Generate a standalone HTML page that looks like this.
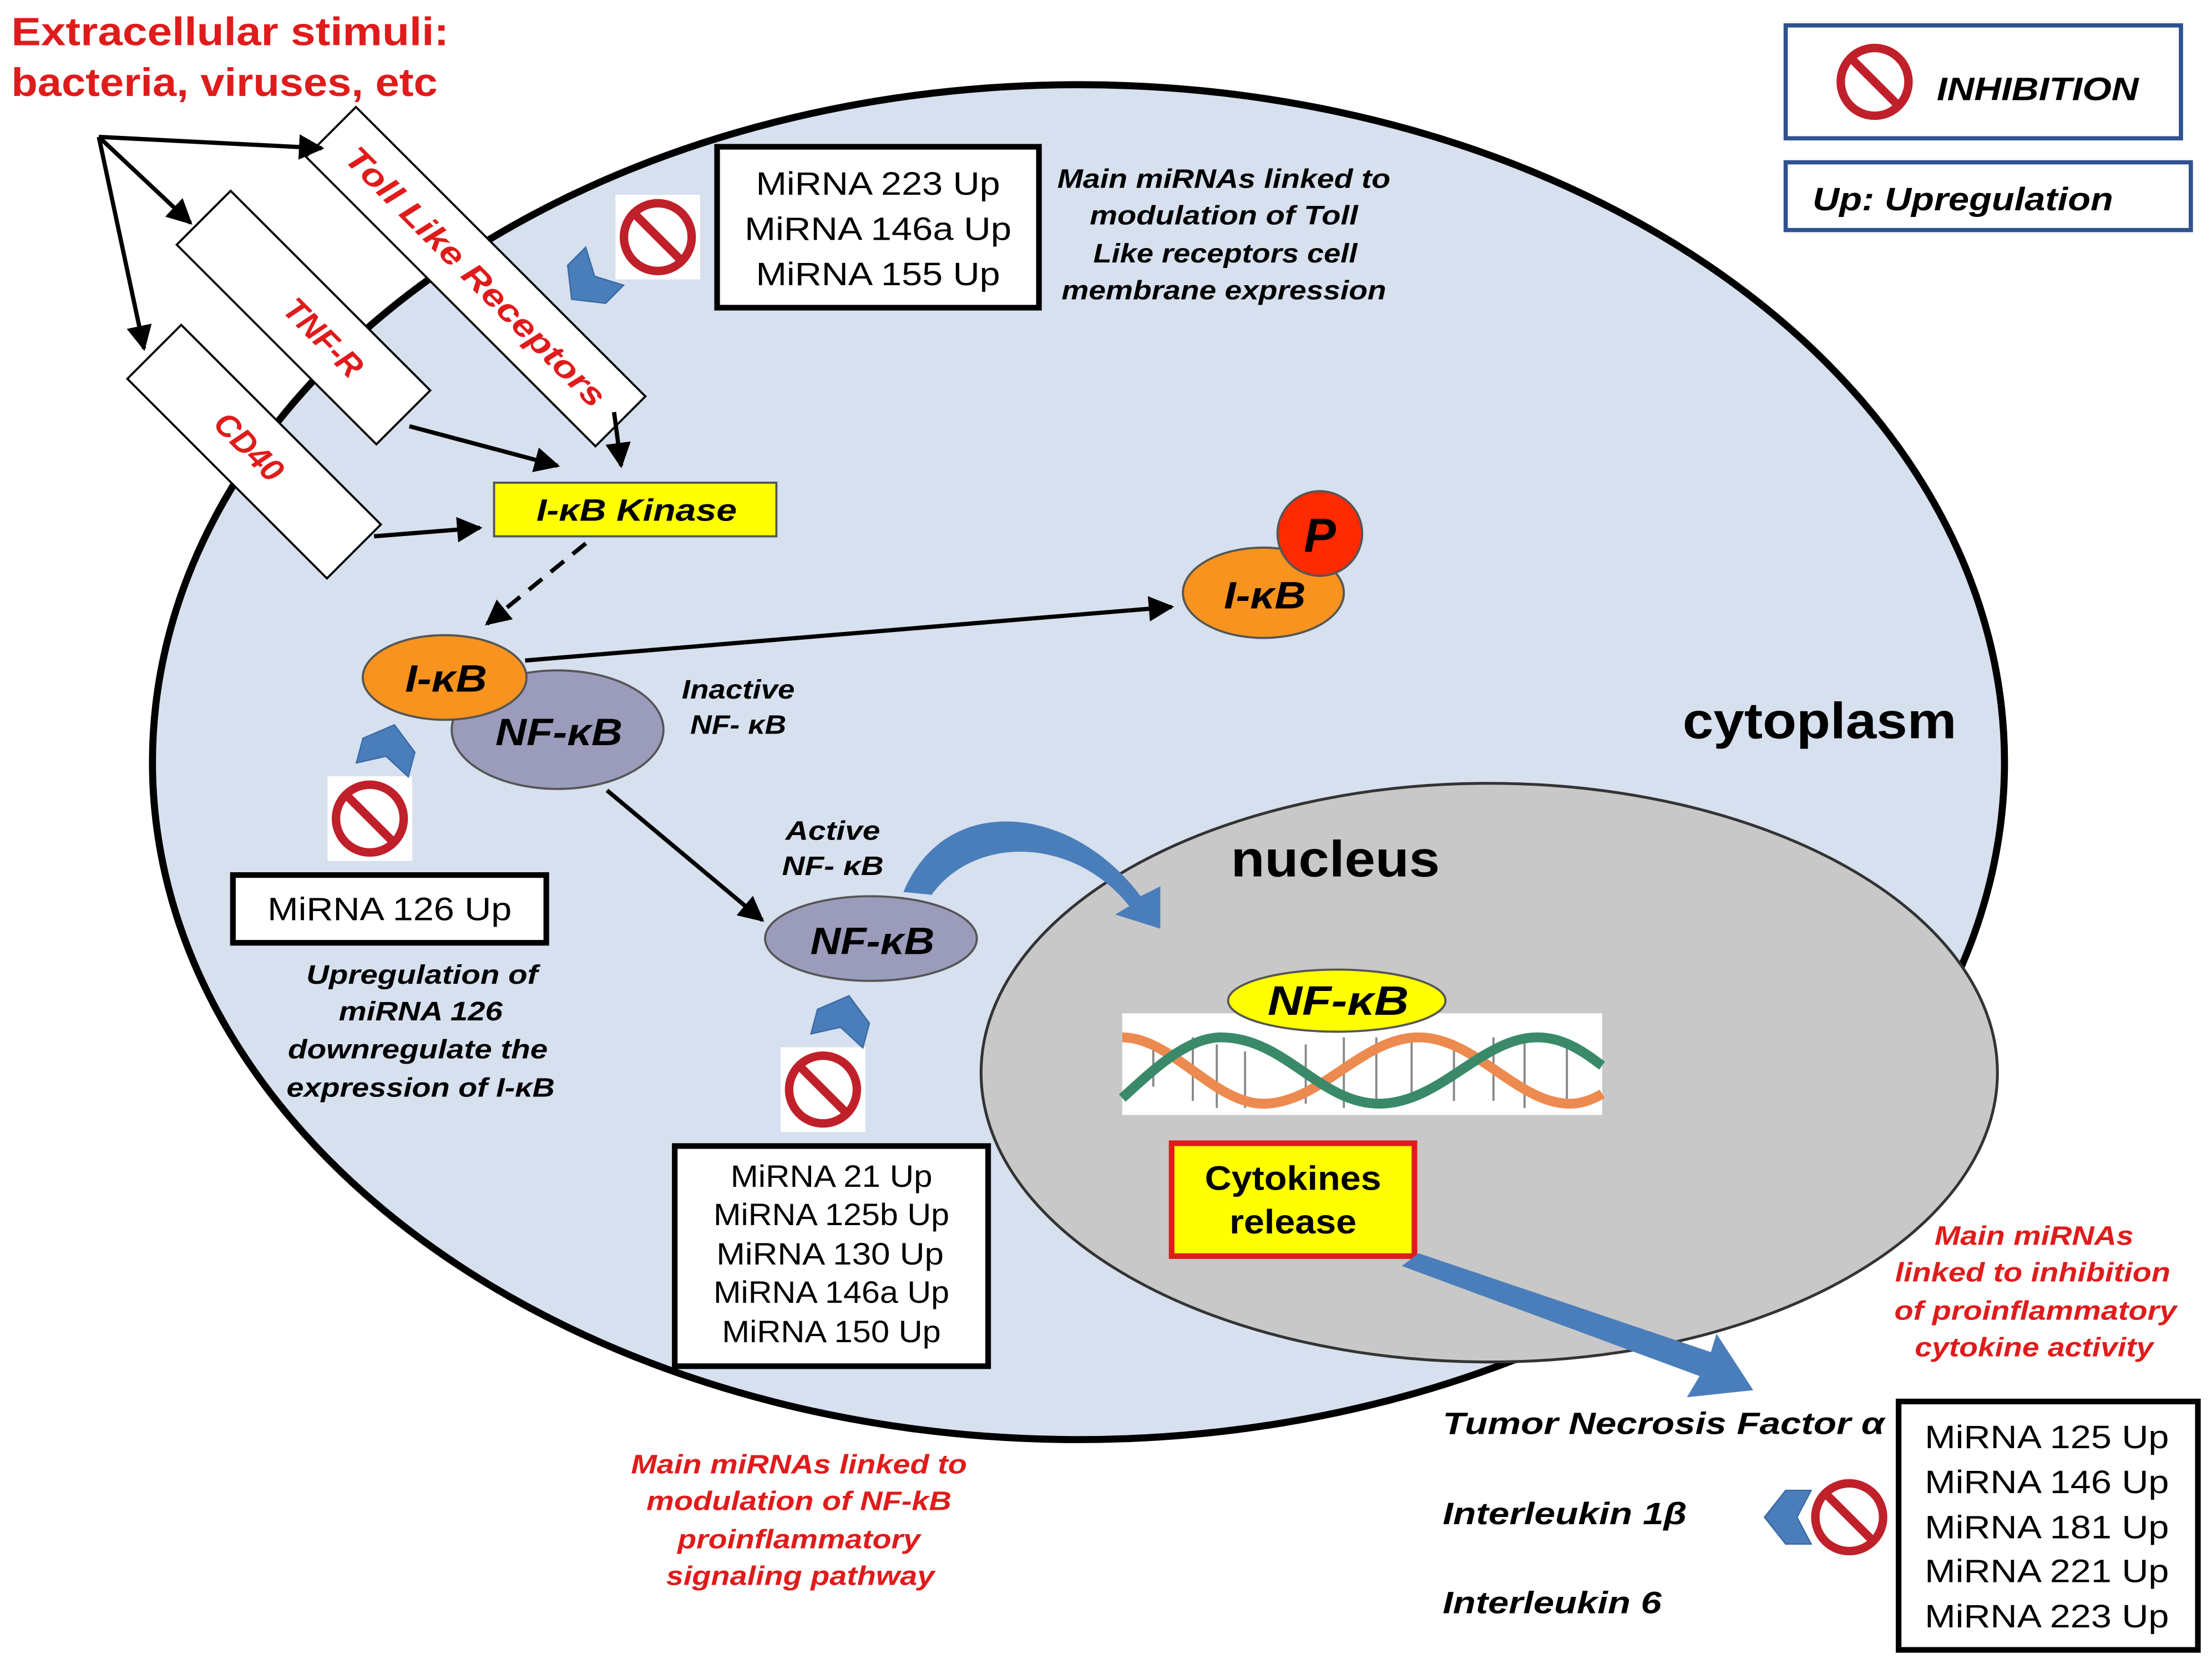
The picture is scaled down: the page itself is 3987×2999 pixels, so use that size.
<!DOCTYPE html>
<html><head><meta charset="utf-8"><style>
html,body{margin:0;padding:0;background:#fff;}
svg{display:block}
text{font-family:"Liberation Sans",Arial,sans-serif;}
.b{font-weight:bold}
.bi{font-weight:bold;font-style:italic}
</style></head><body>
<svg width="3987" height="2999" viewBox="0 0 1567 1179" preserveAspectRatio="none" xmlns="http://www.w3.org/2000/svg">
<defs>
<marker id="ah" viewBox="0 0 10 10" refX="9" refY="5" markerWidth="6" markerHeight="6" orient="auto"><path d="M0,0 L10,5 L0,10 z" fill="#000"/></marker>
<g id="inh"><rect x="-30" y="-30" width="60" height="60" fill="#fff"/><circle r="24" fill="none" stroke="#c0202a" stroke-width="6"/><line x1="-17" y1="-17" x2="17" y2="17" stroke="#c0202a" stroke-width="6"/></g>
<g id="chev"><path d="M0,-17 L19,-2 L19,16 L0,6 L-19,16 L-19,-2 z" fill="#4a7ebb" stroke="#3a6aa5" stroke-width="1"/></g>
</defs>
<rect width="1567" height="1179" fill="#fff"/>
<ellipse cx="764" cy="540" rx="656" ry="480" fill="#d6e0ee" stroke="#000" stroke-width="5"/>
<ellipse cx="1055" cy="760" rx="360" ry="205" fill="#c8c8c8" stroke="#333" stroke-width="2"/>

<text x="8" y="32" class="b" font-size="28" fill="#e01b1b" textLength="310" lengthAdjust="spacingAndGlyphs">Extracellular stimuli:</text>
<text x="8" y="68" class="b" font-size="28" fill="#e01b1b" textLength="302" lengthAdjust="spacingAndGlyphs">bacteria, viruses, etc</text>

<g transform="translate(180,320) rotate(45)"><rect x="-100" y="-27" width="200" height="54" fill="#fff" stroke="#000" stroke-width="1.5"/><text x="-5" y="8" text-anchor="middle" class="bi" font-size="23" fill="#e01b1b">CD40</text></g>
<g transform="translate(215,225) rotate(45)"><rect x="-100" y="-27" width="200" height="54" fill="#fff" stroke="#000" stroke-width="1.5"/><text x="20" y="8" text-anchor="middle" class="bi" font-size="23" fill="#e01b1b">TNF-R</text></g>
<g transform="translate(337,196) rotate(45)"><rect x="-145" y="-25" width="290" height="50" fill="#fff" stroke="#000" stroke-width="1.5"/><text x="0" y="8" text-anchor="middle" class="bi" font-size="23" fill="#e01b1b" textLength="250" lengthAdjust="spacingAndGlyphs">Toll Like Receptors</text></g>

<g stroke="#000" stroke-width="3" fill="none" marker-end="url(#ah)">
<line x1="70" y1="97" x2="228" y2="105"/>
<line x1="70" y1="97" x2="135" y2="158"/>
<line x1="70" y1="97" x2="102" y2="247"/>
<line x1="290" y1="302" x2="395" y2="330"/>
<line x1="265" y1="380" x2="340" y2="374"/>
<line x1="435" y1="292" x2="440" y2="330"/>
<line x1="415" y1="385" x2="345" y2="442" stroke-dasharray="12,8"/>
<line x1="372" y1="468" x2="830" y2="430"/>
<line x1="430" y1="560" x2="540" y2="652"/>
</g>

<rect x="350" y="342" width="200" height="38" fill="#ffff00" stroke="#555" stroke-width="1.5"/>
<text x="451" y="369" text-anchor="middle" class="bi" font-size="22" textLength="142" lengthAdjust="spacingAndGlyphs">I-κB Kinase</text>

<ellipse cx="395" cy="517" rx="75" ry="42" fill="#9b9bbb" stroke="#555" stroke-width="1.5"/>
<text x="396" y="528" text-anchor="middle" class="bi" font-size="27" textLength="90" lengthAdjust="spacingAndGlyphs">NF-κB</text>
<ellipse cx="315" cy="480" rx="58" ry="30" fill="#f7931e" stroke="#555" stroke-width="1.5"/>
<text x="316" y="490" text-anchor="middle" class="bi" font-size="27" textLength="58" lengthAdjust="spacingAndGlyphs">I-κB</text>
<text x="523" y="495" text-anchor="middle" class="bi" font-size="19" textLength="80" lengthAdjust="spacingAndGlyphs">Inactive</text>
<text x="523" y="520" text-anchor="middle" class="bi" font-size="19" textLength="68" lengthAdjust="spacingAndGlyphs">NF- κB</text>

<ellipse cx="895" cy="420" rx="57" ry="32" fill="#f7931e" stroke="#555" stroke-width="1.5"/>
<text x="896" y="431" text-anchor="middle" class="bi" font-size="27" textLength="58" lengthAdjust="spacingAndGlyphs">I-κB</text>
<circle cx="935" cy="378" r="30" fill="#ff2a00" stroke="#555" stroke-width="1.5"/>
<text x="935" y="391" text-anchor="middle" class="bi" font-size="34">P</text>

<ellipse cx="617" cy="665" rx="75" ry="30" fill="#9b9bbb" stroke="#555" stroke-width="1.5"/>
<text x="618" y="676" text-anchor="middle" class="bi" font-size="27" textLength="88" lengthAdjust="spacingAndGlyphs">NF-κB</text>
<text x="590" y="595" text-anchor="middle" class="bi" font-size="19" textLength="67" lengthAdjust="spacingAndGlyphs">Active</text>
<text x="590" y="620" text-anchor="middle" class="bi" font-size="19" textLength="72" lengthAdjust="spacingAndGlyphs">NF- κB</text>
<path d="M640,632 C670,560 760,570 808,635 L822,628 L822,658 L790,648 L800,642 C760,592 690,592 660,634 z" fill="#4a7ebb"/>

<text x="1289" y="523" text-anchor="middle" class="b" font-size="36" textLength="194" lengthAdjust="spacingAndGlyphs">cytoplasm</text>
<text x="946" y="621" text-anchor="middle" class="b" font-size="36" textLength="148" lengthAdjust="spacingAndGlyphs">nucleus</text>

<!-- DNA -->
<rect x="795" y="718" width="340" height="72" fill="#fff"/>
<g stroke="#888" stroke-width="1.5">
<line x1="817" y1="738" x2="817" y2="770"/><line x1="845" y1="735" x2="845" y2="780"/><line x1="862" y1="740" x2="862" y2="785"/><line x1="882" y1="745" x2="882" y2="785"/>
<line x1="925" y1="740" x2="925" y2="782"/><line x1="952" y1="735" x2="952" y2="785"/><line x1="975" y1="735" x2="975" y2="780"/><line x1="1000" y1="738" x2="1000" y2="780"/>
<line x1="1030" y1="740" x2="1030" y2="780"/><line x1="1058" y1="735" x2="1058" y2="780"/><line x1="1080" y1="738" x2="1080" y2="785"/><line x1="1110" y1="740" x2="1110" y2="782"/>
</g>
<path d="M795,735 C830,735 860,782 895,782 C935,782 965,735 1005,735 C1045,735 1075,782 1112,782 C1122,782 1130,778 1135,775" stroke="#ec8a50" stroke-width="7" fill="none"/>
<path d="M795,778 C815,760 840,735 865,735 C910,735 935,782 977,782 C1020,782 1050,735 1089,735 C1110,735 1125,748 1135,755" stroke="#3a8a6a" stroke-width="7" fill="none"/>
<ellipse cx="947" cy="709" rx="77" ry="22" fill="#ffff00" stroke="#555" stroke-width="1.5"/>
<text x="948" y="719" text-anchor="middle" class="bi" font-size="29" textLength="100" lengthAdjust="spacingAndGlyphs">NF-κB</text>

<rect x="830" y="810" width="172" height="80" fill="#ffff00" stroke="#e01b1b" stroke-width="4"/>
<text x="916" y="843" text-anchor="middle" class="b" font-size="24" textLength="125" lengthAdjust="spacingAndGlyphs">Cytokines</text>
<text x="916" y="874" text-anchor="middle" class="b" font-size="24" textLength="90" lengthAdjust="spacingAndGlyphs">release</text>
<path d="M993,897 L1005,888 L1212,958 L1216,945 L1242,985 L1195,990 L1204,975 z" fill="#4a7ebb"/>

<!-- miRNA boxes -->
<rect x="508" y="104" width="228" height="114" fill="#fff" stroke="#000" stroke-width="4"/>
<g font-size="23" text-anchor="middle">
<text x="622" y="138" textLength="173" lengthAdjust="spacingAndGlyphs">MiRNA 223 Up</text>
<text x="622" y="170" textLength="189" lengthAdjust="spacingAndGlyphs">MiRNA 146a Up</text>
<text x="622" y="202" textLength="173" lengthAdjust="spacingAndGlyphs">MiRNA 155 Up</text>
</g>
<g class="bi" font-size="19" text-anchor="middle">
<text x="867" y="133" textLength="236" lengthAdjust="spacingAndGlyphs">Main miRNAs linked to</text>
<text x="867" y="159" textLength="190" lengthAdjust="spacingAndGlyphs">modulation of Toll</text>
<text x="868" y="186" textLength="187" lengthAdjust="spacingAndGlyphs">Like receptors cell</text>
<text x="867" y="212" textLength="230" lengthAdjust="spacingAndGlyphs">membrane expression</text>
</g>
<use href="#inh" x="466" y="168"/>
<g transform="translate(417,200) rotate(-135)"><use href="#chev"/></g>

<rect x="165" y="620" width="222" height="48" fill="#fff" stroke="#000" stroke-width="4"/>
<text x="276" y="652" text-anchor="middle" font-size="23" textLength="173" lengthAdjust="spacingAndGlyphs">MiRNA 126 Up</text>
<use href="#inh" x="262" y="580"/>
<g transform="translate(275,530) rotate(15)"><use href="#chev"/></g>
<g class="bi" font-size="19" text-anchor="middle">
<text x="299" y="697" textLength="164" lengthAdjust="spacingAndGlyphs">Upregulation of</text>
<text x="298" y="723" textLength="116" lengthAdjust="spacingAndGlyphs">miRNA 126</text>
<text x="296" y="750" textLength="184" lengthAdjust="spacingAndGlyphs">downregulate the</text>
<text x="298" y="777" textLength="190" lengthAdjust="spacingAndGlyphs">expression of I-κB</text>
</g>

<rect x="478" y="812" width="222" height="156" fill="#fff" stroke="#000" stroke-width="4"/>
<g font-size="22" text-anchor="middle">
<text x="589" y="841" textLength="143" lengthAdjust="spacingAndGlyphs">MiRNA 21 Up</text>
<text x="589" y="868" textLength="167" lengthAdjust="spacingAndGlyphs">MiRNA 125b Up</text>
<text x="588" y="896" textLength="161" lengthAdjust="spacingAndGlyphs">MiRNA 130  Up</text>
<text x="589" y="923" textLength="167" lengthAdjust="spacingAndGlyphs">MiRNA 146a Up</text>
<text x="589" y="951" textLength="155" lengthAdjust="spacingAndGlyphs">MiRNA 150 Up</text>
</g>
<use href="#inh" x="583" y="772"/>
<g transform="translate(597,722) rotate(15)"><use href="#chev"/></g>
<g class="bi" font-size="19" text-anchor="middle" fill="#e01b1b">
<text x="566" y="1044" textLength="238" lengthAdjust="spacingAndGlyphs">Main miRNAs linked to</text>
<text x="566" y="1070" textLength="216" lengthAdjust="spacingAndGlyphs">modulation of NF-kB</text>
<text x="566" y="1097" textLength="172" lengthAdjust="spacingAndGlyphs">proinflammatory</text>
<text x="567" y="1123" textLength="190" lengthAdjust="spacingAndGlyphs">signaling pathway</text>
</g>

<g class="bi" font-size="19" text-anchor="middle" fill="#e01b1b">
<text x="1441" y="882" textLength="141" lengthAdjust="spacingAndGlyphs">Main miRNAs</text>
<text x="1440" y="908" textLength="195" lengthAdjust="spacingAndGlyphs">linked to inhibition</text>
<text x="1442" y="935" textLength="200" lengthAdjust="spacingAndGlyphs">of proinflammatory</text>
<text x="1441" y="961" textLength="169" lengthAdjust="spacingAndGlyphs">cytokine activity</text>
</g>
<g class="bi" font-size="22">
<text x="1022" y="1016" textLength="313" lengthAdjust="spacingAndGlyphs">Tumor Necrosis Factor α</text>
<text x="1022" y="1080" textLength="173" lengthAdjust="spacingAndGlyphs">Interleukin 1β</text>
<text x="1022" y="1143" textLength="155" lengthAdjust="spacingAndGlyphs">Interleukin 6</text>
</g>
<rect x="1345" y="993" width="212" height="176" fill="#fff" stroke="#000" stroke-width="4"/>
<g font-size="23" text-anchor="middle">
<text x="1450" y="1026" textLength="173" lengthAdjust="spacingAndGlyphs">MiRNA 125 Up</text>
<text x="1450" y="1058" textLength="173" lengthAdjust="spacingAndGlyphs">MiRNA 146 Up</text>
<text x="1450" y="1090" textLength="173" lengthAdjust="spacingAndGlyphs">MiRNA 181 Up</text>
<text x="1450" y="1121" textLength="173" lengthAdjust="spacingAndGlyphs">MiRNA 221 Up</text>
<text x="1450" y="1153" textLength="173" lengthAdjust="spacingAndGlyphs">MiRNA 223 Up</text>
</g>
<use href="#inh" x="1310" y="1075"/>
<g transform="translate(1267,1075) rotate(-90)"><use href="#chev"/></g>

<!-- legend -->
<rect x="1265" y="18" width="280" height="80" fill="#fff" stroke="#2f528f" stroke-width="3"/>
<use href="#inh" x="1328" y="58"/>
<text x="1372" y="71" class="bi" font-size="23" textLength="143" lengthAdjust="spacingAndGlyphs">INHIBITION</text>
<rect x="1265" y="115" width="287" height="48" fill="#fff" stroke="#2f528f" stroke-width="3"/>
<text x="1284" y="149" class="bi" font-size="23" textLength="213" lengthAdjust="spacingAndGlyphs">Up: Upregulation</text>
</svg>
</body></html>
